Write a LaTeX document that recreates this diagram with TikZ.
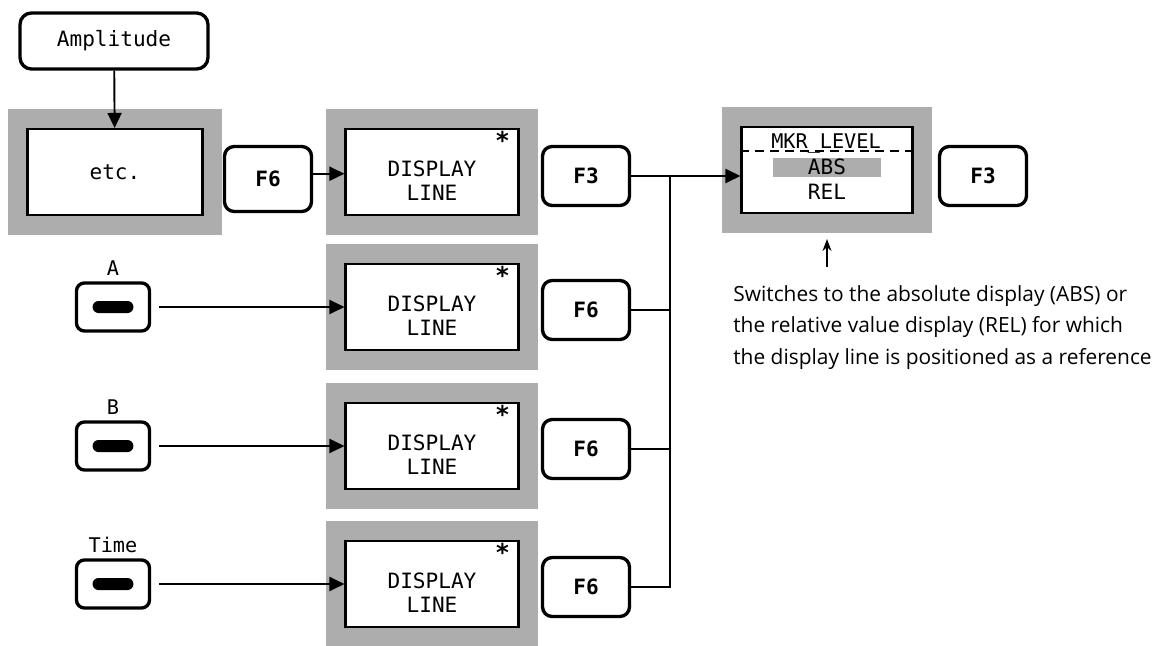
\documentclass[tikz,border=0pt]{standalone}
\usepackage{fontspec}
\setmainfont{Open Sans}
\setmonofont{DejaVu Sans Mono}
\usetikzlibrary{arrows.meta,positioning,calc}
\definecolor{dither}{gray}{0.68}
\tikzset{
  panel/.style={draw, line width=1.2pt, fill=white, minimum width=3.46cm, minimum height=1.72cm, inner sep=0pt, preaction={draw=dither, line width=0.8cm}},
  paneltext/.style={align=center, inner sep=0pt, font=\ttfamily\fontsize{12}{13.6}\selectfont},
  fkey/.style={draw, rounded corners=5.5pt, line width=1.9pt, minimum width=1.74cm, minimum height=1.18cm, font=\ttfamily\bfseries\fontsize{12}{14}\selectfont},
  softkey/.style={draw, rounded corners=4.5pt, line width=1.9pt, minimum width=1.46cm, minimum height=0.96cm},
  pill/.style={fill, rounded corners=0.12cm, minimum width=0.82cm, minimum height=0.24cm, inner sep=0pt},
  keylabel/.style={font=\ttfamily\fontsize{11.5}{13}\selectfont, inner sep=1pt},
  asterisk/.style={font=\ttfamily\bfseries\fontsize{14}{14}\selectfont, inner sep=0pt},
  line/.style={-{Triangle[length=3mm, width=2.8mm]}, line width=1.1pt},
  wire/.style={line width=1.1pt}
}

\begin{document}
\begin{tikzpicture}[x=0.02cm, y=-0.02cm]
  \useasboundingbox (0,0) rectangle (1157,646);

  % top row
  \node[fkey, minimum width=3.76cm, minimum height=1.12cm, rounded corners=6.5pt, font=\ttfamily\fontsize{12}{14}\selectfont] (amp) at (114,41) {Amplitude};
  \node[panel, minimum width=3.5cm] (etc) at (115,172) {};
  \node[paneltext] (etctext) at (etc) {etc.};
  \node[fkey, minimum height=1.3cm] (f6a) at (268,179) {F6};
  \node[panel] (d1) at (432,172) {};
  \node[paneltext] (t1) at ([yshift=-5pt]d1.center) {DISPLAY\\LINE};
  \node[asterisk] (s1) at ($(d1.north east)+(-17,12)$) {*};
  \node[fkey] (f3a) at (586,176) {F3};
  \node[panel, minimum width=3.42cm] (mkr) at (827,170) {};
  \node[keylabel, anchor=base] (mkrtitle) at (826,148) {MKR\_LEVEL};
  \node[paneltext, fill=dither, minimum width=2.18cm, minimum height=0.38cm] (abs) at (827,167) {ABS};
  \node[paneltext] (rel) at (827,192) {REL};
  \node[fkey] (f3b) at (983,176) {F3};
  \draw[line width=1pt, dash pattern=on 5pt off 3.5pt] ([yshift=-1.5pt]mkr.west |- mkrtitle.base) -- ([yshift=-1.5pt]mkr.east |- mkrtitle.base);

  % note below the level menu
  \node[anchor=north west, inner sep=0pt, align=left, font=\fontsize{11.9}{17.9}\selectfont] (note) at (733,285)
    {Switches to the absolute display (ABS) or\\the relative value display (REL) for which\\the display line is positioned as a reference};
  \coordinate (mkrfoot) at ($(mkr.south)+(0,25)$);
  \draw[-{Stealth[length=2.4mm, width=1.8mm]}, line width=0.8pt, shorten <=0.36cm] (note.north -| mkrfoot) -- (mkrfoot);

  % marker rows
  \node[softkey] (ka) at (113,307) {};
  \node[pill] (pa) at (ka) {};
  \node[keylabel, above=2pt of ka] (la) {A};
  \node[panel] (d2) at (432,307) {};
  \node[paneltext] (t2) at ([yshift=-5pt]d2.center) {DISPLAY\\LINE};
  \node[asterisk] (s2) at ($(d2.north east)+(-17,12)$) {*};
  \node[fkey] (f6b) at (586,310) {F6};

  \node[softkey] (kb) at (113,446) {};
  \node[pill] (pb) at (kb) {};
  \node[keylabel, above=2pt of kb] (lb) {B};
  \node[panel] (d3) at (432,446) {};
  \node[paneltext] (t3) at ([yshift=-5pt]d3.center) {DISPLAY\\LINE};
  \node[asterisk] (s3) at ($(d3.north east)+(-17,12)$) {*};
  \node[fkey] (f6c) at (586,449) {F6};

  \node[softkey] (kt) at (113,584) {};
  \node[pill] (pt) at (kt) {};
  \node[keylabel, above=2pt of kt] (lt) {Time};
  \node[panel] (d4) at (432,584) {};
  \node[paneltext] (t4) at ([yshift=-5pt]d4.center) {DISPLAY\\LINE};
  \node[asterisk] (s4) at ($(d4.north east)+(-17,12)$) {*};
  \node[fkey] (f6d) at (586,587) {F6};

  % connectors
  \coordinate (jn) at (670,176);
  \draw[line] (amp) -- (etc);
  \draw[line] ([yshift=3pt]f6a.east) -- ([yshift=3pt]f6a.east -| d1.west);
  \draw[line] (f3a.east) -- (f3a.east -| mkr.west);
  \draw[line, shorten <=0.16cm] (ka) -- (d2);
  \draw[line, shorten <=0.16cm] (kb) -- (d3);
  \draw[line, shorten <=0.16cm] (kt) -- (d4);
  \draw[wire] (f6b.east) -| (jn);
  \draw[wire] (f6c.east) -| (jn);
  \draw[wire] (f6d.east) -| (jn);
\end{tikzpicture}
\end{document}
